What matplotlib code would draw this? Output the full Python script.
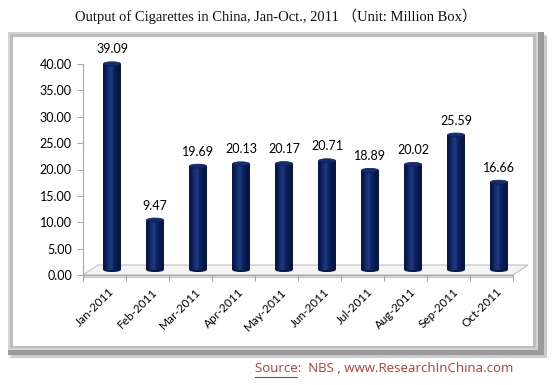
import numpy as np
import matplotlib
matplotlib.use("Agg")
import matplotlib.pyplot as plt
import matplotlib.transforms as mtransforms
from matplotlib.patches import Rectangle, Ellipse, Polygon

months = ["Jan-2011", "Feb-2011", "Mar-2011", "Apr-2011", "May-2011",
          "Jun-2011", "Jul-2011", "Aug-2011", "Sep-2011", "Oct-2011"]
output = [39.09, 9.47, 19.69, 20.13, 20.17, 20.71, 18.89, 20.02, 25.59, 16.66]
yticks = [0, 5, 10, 15, 20, 25, 30, 35, 40]

W, H = 552, 385
fig = plt.figure(figsize=(W / 100, H / 100), dpi=100)
fig.patch.set_facecolor("white")

# frame with bevel and shadow
bg = fig.add_axes([0, 0, 1, 1])
bg.set_xlim(0, W)
bg.set_ylim(H, 0)
bg.axis("off")
for k, a in enumerate([0.05, 0.07, 0.09]):
    bg.add_patch(Rectangle((9 + k, 34 + k), 538 - k, 324 - k, facecolor="black",
                           alpha=a, lw=0))
bg.add_patch(Rectangle((8, 32), 536, 323, facecolor="#9a9a9a", lw=0))
bg.add_patch(Rectangle((8, 32), 530, 318, facecolor="#d4d4d4", lw=0))
bg.add_patch(Rectangle((10, 34), 526, 314, facecolor="#bdbdbd", lw=0))
bg.add_patch(Rectangle((13, 37), 520, 309, facecolor="white", lw=0))

fig.text(276 / W, 1 - 16 / H,
         "Output of Cigarettes in China, Jan-Oct., 2011 （Unit: Million Box）",
         ha="center", va="center", fontsize=10.5,
         family=["Liberation Serif", "Noto Sans CJK SC"], color="#111111")

# source line, "Source" underlined
src_color = "#c0392b"
src = fig.text(513 / W, 1 - 369 / H, "Source:  NBS , www.ResearchInChina.com",
               ha="right", va="center", fontsize=9.5, family="Open Sans",
               color=src_color)
word = fig.text(0, 0, "Source", fontsize=9.5, family="Open Sans", alpha=0)
fig.canvas.draw()
r = fig.canvas.get_renderer()
bb = src.get_window_extent(r)
wb = word.get_window_extent(r)
bg.plot([bb.x0, bb.x0 + wb.width], [H - bb.y0 + 1, H - bb.y0 + 1],
        color=src_color, lw=0.8)

# plot area: x axis 83..513 px, y 0 at 275 px, 40 at 64 px
x0, x1 = 83, 513
y0, y1 = 275, 64
ax = fig.add_axes([x0 / W, 1 - y0 / H, (x1 - x0) / W, (y0 - y1) / H])
ax.set_xlim(0, len(months))
ax.set_ylim(0, 40)
ax.patch.set_alpha(0)
for s in ["top", "right", "bottom"]:
    ax.spines[s].set_visible(False)
ax.spines["left"].set_color("#a6a6a6")
ax.set_yticks(yticks)
ax.set_yticklabels(["%.2f" % v for v in yticks], fontsize=9, family="Lato")
ax.tick_params(axis="y", length=4, color="#a6a6a6", pad=4)
ax.set_xticks(np.arange(len(months) + 1))
ax.set_xticklabels([])
ax.tick_params(axis="x", length=4, color="#a6a6a6")
for i, m in enumerate(months):
    ax.text(i + 0.6, -2.1, m, rotation=45, ha="right", va="top",
            rotation_mode="anchor", fontsize=8.5, family="Lato")

# 3d floor (depth offset in pixels)
ddx, ddy = 15, 10
to_data_x = len(months) / (x1 - x0)
to_data_y = 40 / (y0 - y1)
fx, fy = ddx * to_data_x, ddy * to_data_y
n = len(months)
floor = Polygon([(0, 0), (n, 0), (n + fx, fy), (fx, fy)], closed=True,
                facecolor="#f4f4f4", edgecolor="#bfbfbf", lw=0.8, clip_on=False,
                zorder=1)
ax.add_patch(floor)
ax.add_patch(Polygon([(0, 0), (n, 0), (n, -0.35), (0, -0.35)], closed=True,
                     facecolor="#e0e0e0", edgecolor="#bfbfbf", lw=0.6,
                     clip_on=False, zorder=1))
ax.plot([0, n], [0, 0], color="#a6a6a6", lw=0.8, clip_on=False, zorder=2)

# cylinder bars, shifted to the middle of the floor depth
shift = mtransforms.offset_copy(ax.transData, fig=fig, x=ddx / 2, y=ddy / 2,
                                units="dots")
bw = 0.4
ell_h = 4 * to_data_y
nstrip = 14
edge_c = np.array([0x06, 0x16, 0x45]) / 255
mid_c = np.array([0x1f, 0x3c, 0x8c]) / 255
for i, v in enumerate(output):
    xc = i + 0.5
    ax.add_patch(Ellipse((xc, 0), bw, ell_h, facecolor=edge_c, lw=0,
                         transform=shift, clip_on=False, zorder=3))
    for k in range(nstrip):
        t = (k + 0.5) / nstrip
        w = np.clip(1 - abs(t - 0.42) / 0.42, 0, 1) ** 1.5
        c = edge_c * (1 - w) + mid_c * w
        ax.add_patch(Rectangle((xc - bw / 2 + k * bw / nstrip, 0),
                               bw / nstrip * 1.05, v, facecolor=c, lw=0,
                               transform=shift, clip_on=False, zorder=3))
    ax.add_patch(Ellipse((xc, v), bw, ell_h, facecolor="#142d72",
                         edgecolor="#0a1d55", lw=0.5, transform=shift,
                         clip_on=False, zorder=4))
    ax.text(xc, v + 1.6, "%.2f" % v, ha="center", va="bottom", fontsize=9,
            family="Lato", transform=shift, zorder=5)

fig.savefig("out.png", dpi=100)
